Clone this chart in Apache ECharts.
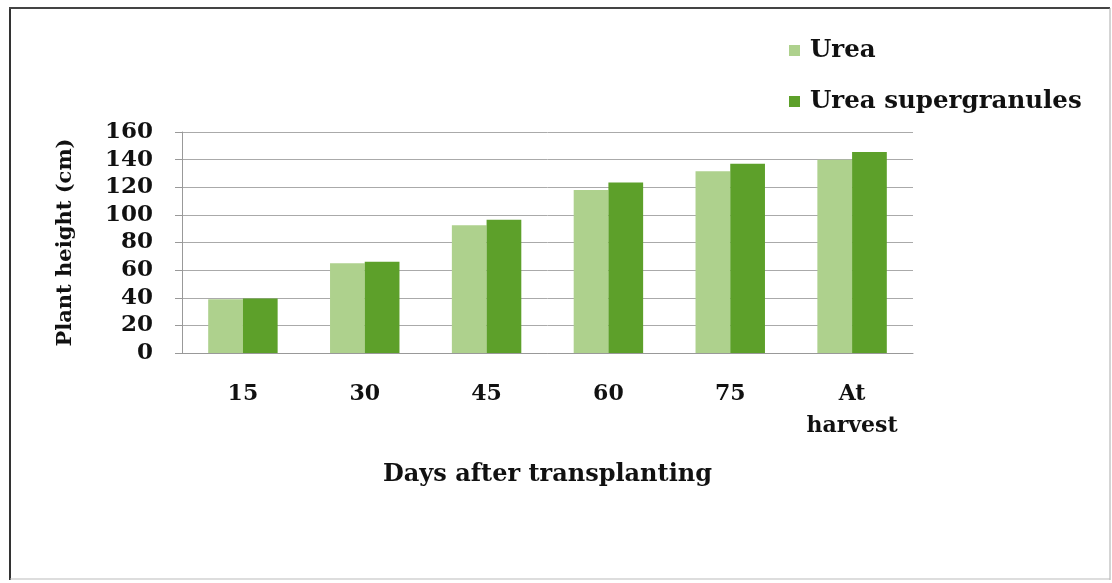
<!DOCTYPE html>
<html><head><meta charset="utf-8">
<script src="https://cdn.jsdelivr.net/npm/echarts@6/dist/echarts.min.js"></script>
<style>html,body{margin:0;padding:0;background:#fff}#c{width:1112px;height:583px}</style>
</head><body><div id="c"></div>
<script>
const categories = ['15', '30', '45', '60', '75', 'At\nharvest'];
const urea = [39, 65, 92.5, 118, 131.5, 140];
const ureaSupergranules = [39.5, 66, 96.5, 123.5, 137, 145.5];
const seriesNames = ['Urea', 'Urea supergranules'];
const yTicks = { min: 0, max: 160, interval: 20 };

const FONT = '"DejaVu Serif", "Liberation Serif", serif';
const chart = echarts.init(document.getElementById('c'));
chart.setOption({
  backgroundColor: '#fff',
  animation: false,
  graphic: [
    { type: 'line', shape: { x1: 10, y1: 8, x2: 10, y2: 580 }, style: { stroke: '#333', lineWidth: 2 } },
    { type: 'line', shape: { x1: 9, y1: 8, x2: 1110, y2: 8 }, style: { stroke: '#444', lineWidth: 2 } },
    { type: 'line', shape: { x1: 1110, y1: 8, x2: 1110, y2: 580 }, style: { stroke: '#aaa', lineWidth: 1 } },
    { type: 'line', shape: { x1: 10, y1: 579, x2: 1110, y2: 579 }, style: { stroke: '#bbb', lineWidth: 1 } }
  ],
  legend: {
    orient: 'vertical', left: 784, top: 33, itemGap: 26, itemWidth: 11, itemHeight: 11,
    icon: 'rect',
    textStyle: { fontFamily: FONT, fontWeight: 'bold', fontSize: 24.5, color: '#111', padding: [0, 0, 0, 5] },
    data: seriesNames
  },
  grid: { left: 182, right: 199, top: 132, bottom: 230 },
  xAxis: {
    type: 'category', data: categories,
    axisLine: { lineStyle: { color: '#999', width: 1 } },
    axisTick: { show: false },
    axisLabel: { margin: 25, fontFamily: FONT, fontWeight: 'bold', fontSize: 22, color: '#111', lineHeight: 32 },
    name: 'Days after transplanting', nameLocation: 'middle', nameGap: 110,
    nameTextStyle: { fontFamily: FONT, fontWeight: 'bold', fontSize: 24, color: '#111' }
  },
  yAxis: {
    type: 'value', min: yTicks.min, max: yTicks.max, interval: yTicks.interval,
    axisLine: { show: true, lineStyle: { color: '#999', width: 1 } },
    axisTick: { show: true, length: 7, lineStyle: { color: '#999' } },
    splitLine: { lineStyle: { color: '#aaa', width: 1 } },
    axisLabel: { margin: 29, fontFamily: FONT, fontWeight: 'bold', fontSize: 23, color: '#111' },
    name: 'Plant height (cm)', nameLocation: 'middle', nameGap: 106, nameRotate: 90,
    nameTextStyle: { fontFamily: FONT, fontWeight: 'bold', fontSize: 21, color: '#111' }
  },
  series: [
    { name: seriesNames[0], type: 'bar', data: urea, barGap: '0%', barCategoryGap: '43%', itemStyle: { color: '#aed18d' } },
    { name: seriesNames[1], type: 'bar', data: ureaSupergranules, barGap: '0%', barCategoryGap: '43%', itemStyle: { color: '#5da02a' } }
  ]
});
</script></body></html>
